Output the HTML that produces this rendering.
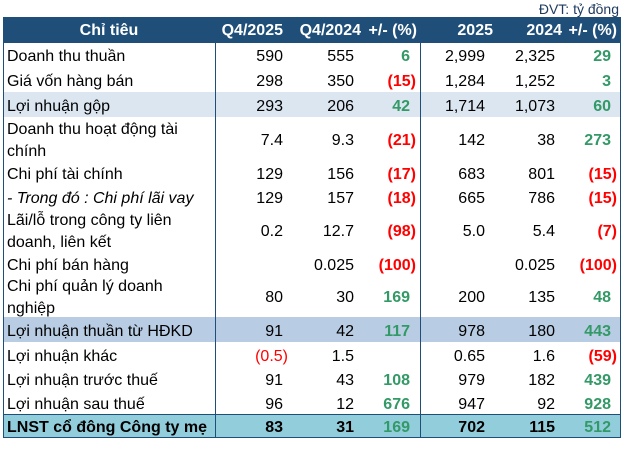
<!DOCTYPE html>
<html>
<head>
<meta charset="utf-8">
<style>
*{margin:0;padding:0;box-sizing:border-box}
html,body{width:625px;height:449px;background:#fff;overflow:hidden}
body{position:relative;font-family:"Liberation Sans",Arial,sans-serif;font-size:16px;color:#000}
.title{position:absolute;right:6px;top:1px;font-size:14px;line-height:16px;color:#1F3A60;white-space:nowrap}
.hd{position:absolute;left:3px;top:17px;width:618px;height:26px;background:#1F4E79;color:#fff;font-weight:bold}
.r{position:absolute;left:3px;width:618px}
.hd span,.r span{position:absolute;white-space:nowrap;top:50%;line-height:22px}
.hd span{transform:translateY(calc(-50% + 1px))}
.r span{transform:translateY(calc(-50% + 2px))}
.l{left:4px}
.c1{right:338px}
.c1p{right:333px}
.c2{right:267px}
.p1g{right:211px}
.p1r{right:205px}
.c3{right:136px}
.c4{right:66px}
.p2g{right:10px}
.p2r{right:4px}
.g{color:#339966;font-weight:bold}
.rd{color:#FF0000;font-weight:bold}
.rn{color:#FF0000}
.it{font-style:italic}
.b span{font-weight:bold}
.ln{position:absolute;background:#1F4E79}
</style>
</head>
<body>
<div class="title">ĐVT: tỷ đồng</div>

<div class="hd">
  <span style="left:0;width:212px;text-align:center">Chỉ tiêu</span>
  <span style="right:338px">Q4/2025</span>
  <span style="right:260px">Q4/2024</span>
  <span style="right:204px">+/- (%)</span>
  <span style="right:128px">2025</span>
  <span style="right:59px">2024</span>
  <span style="right:4px">+/- (%)</span>
</div>

<div class="r" style="top:43px;height:24px">
  <span class="l">Doanh thu thuần</span>
  <span class="c1">590</span><span class="c2">555</span><span class="p1g g">6</span>
  <span class="c3">2,999</span><span class="c4">2,325</span><span class="p2g g">29</span>
</div>

<div class="r" style="top:67px;height:25px">
  <span class="l">Giá vốn hàng bán</span>
  <span class="c1">298</span><span class="c2">350</span><span class="p1r rd">(15)</span>
  <span class="c3">1,284</span><span class="c4">1,252</span><span class="p2g g">3</span>
</div>

<div class="r" style="top:92px;height:25px;background:#DCE6F1">
  <span class="l">Lợi nhuận gộp</span>
  <span class="c1">293</span><span class="c2">206</span><span class="p1g g">42</span>
  <span class="c3">1,714</span><span class="c4">1,073</span><span class="p2g g">60</span>
</div>

<div class="r" style="top:117px;height:44px">
  <span class="l">Doanh thu hoạt động tài<br>chính</span>
  <span class="c1">7.4</span><span class="c2">9.3</span><span class="p1r rd">(21)</span>
  <span class="c3">142</span><span class="c4">38</span><span class="p2g g">273</span>
</div>

<div class="r" style="top:161px;height:24px">
  <span class="l">Chi phí tài chính</span>
  <span class="c1">129</span><span class="c2">156</span><span class="p1r rd">(17)</span>
  <span class="c3">683</span><span class="c4">801</span><span class="p2r rd">(15)</span>
</div>

<div class="r" style="top:185px;height:23px">
  <span class="l it">- Trong đó : Chi phí lãi vay</span>
  <span class="c1">129</span><span class="c2">157</span><span class="p1r rd">(18)</span>
  <span class="c3">665</span><span class="c4">786</span><span class="p2r rd">(15)</span>
</div>

<div class="r" style="top:208px;height:44px">
  <span class="l">Lãi/lỗ trong công ty liên<br>doanh, liên kết</span>
  <span class="c1">0.2</span><span class="c2">12.7</span><span class="p1r rd">(98)</span>
  <span class="c3">5.0</span><span class="c4">5.4</span><span class="p2r rd">(7)</span>
</div>

<div class="r" style="top:252px;height:23px">
  <span class="l">Chi phí bán hàng</span>
  <span class="c2">0.025</span><span class="p1r rd">(100)</span>
  <span class="c4">0.025</span><span class="p2r rd">(100)</span>
</div>

<div class="r" style="top:275px;height:42px">
  <span class="l">Chi phí quản lý doanh<br>nghiệp</span>
  <span class="c1">80</span><span class="c2">30</span><span class="p1g g">169</span>
  <span class="c3">200</span><span class="c4">135</span><span class="p2g g">48</span>
</div>

<div class="r" style="top:317px;height:25px;background:#B8CCE4">
  <span class="l">Lợi nhuận thuần từ HĐKD</span>
  <span class="c1">91</span><span class="c2">42</span><span class="p1g g">117</span>
  <span class="c3">978</span><span class="c4">180</span><span class="p2g g">443</span>
</div>

<div class="r" style="top:342px;height:25px">
  <span class="l">Lợi nhuận khác</span>
  <span class="c1p rn">(0.5)</span><span class="c2">1.5</span>
  <span class="c3">0.65</span><span class="c4">1.6</span><span class="p2r rd">(59)</span>
</div>

<div class="r" style="top:367px;height:24px">
  <span class="l">Lợi nhuận trước thuế</span>
  <span class="c1">91</span><span class="c2">43</span><span class="p1g g">108</span>
  <span class="c3">979</span><span class="c4">182</span><span class="p2g g">439</span>
</div>

<div class="r" style="top:391px;height:23px">
  <span class="l">Lợi nhuận sau thuế</span>
  <span class="c1">96</span><span class="c2">12</span><span class="p1g g">676</span>
  <span class="c3">947</span><span class="c4">92</span><span class="p2g g">928</span>
</div>

<div class="r b" style="top:415px;height:22px;background:#92CDDC">
  <span class="l">LNST cổ đông Công ty mẹ</span>
  <span class="c1">83</span><span class="c2">31</span><span class="p1g g">169</span>
  <span class="c3">702</span><span class="c4">115</span><span class="p2g g">512</span>
</div>

<!-- borders -->
<div class="ln" style="left:3px;top:17px;width:1px;height:421px"></div>
<div class="ln" style="left:620px;top:17px;width:1px;height:421px"></div>
<div class="ln" style="left:3px;top:437px;width:618px;height:1px"></div>
<div class="ln" style="left:215px;top:43px;width:1px;height:395px"></div>
<div class="ln" style="left:420px;top:43px;width:1px;height:395px"></div>
<div class="ln" style="left:3px;top:414px;width:618px;height:1px"></div>
</body>
</html>
